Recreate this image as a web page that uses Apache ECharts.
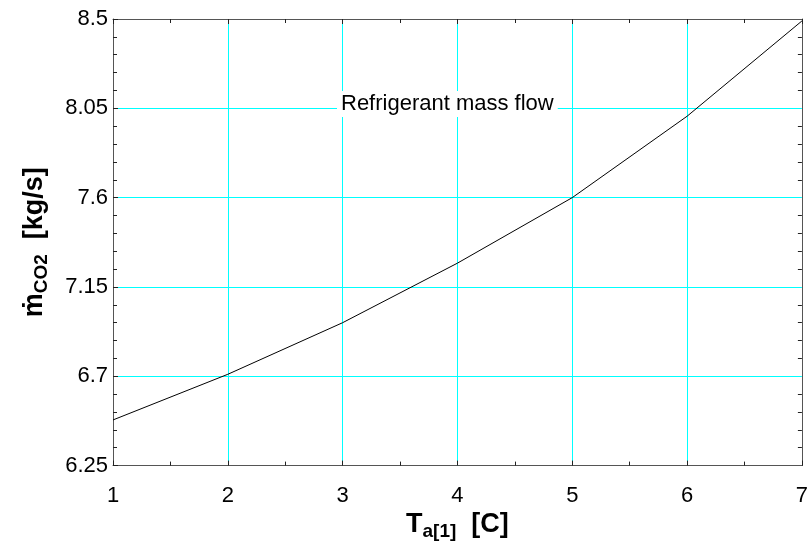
<!DOCTYPE html>
<html>
<head>
<meta charset="utf-8">
<script src="https://cdn.jsdelivr.net/npm/echarts@6/dist/echarts.min.js"></script>
<style>
html,body{margin:0;padding:0;background:#fff;}
#chart{width:811px;height:546px;}
</style>
</head>
<body>
<div id="chart"></div>
<script>
// Data
const xValues = [1, 2, 3, 4, 5, 6, 7];
const massFlow = [6.48, 6.71, 6.97, 7.27, 7.60, 8.01, 8.49];
const yMajorTicks = [6.25, 6.7, 7.15, 7.6, 8.05, 8.5];
const yMinorTicks = [6.34, 6.43, 6.52, 6.61, 6.79, 6.88, 6.97, 7.06, 7.24, 7.33, 7.42, 7.51,
  7.69, 7.78, 7.87, 7.96, 8.14, 8.23, 8.32, 8.41];
const annotation = 'Refrigerant mass flow';

const FONT = '"Liberation Sans", Arial, sans-serif';
const chart = echarts.init(document.getElementById('chart'), null, {renderer: 'canvas'});

const axisLs = () => ({color: '#555', width: 1});
const tickLs = () => ({color: '#222', width: 1});
const GRIDCOLOR = '#00FFFF';

chart.setOption({
  animation: false,
  backgroundColor: '#fff',
  grid: {left: 113, right: 9, top: 19, bottom: 70, containLabel: false},
  xAxis: [
    {
      type: 'value', position: 'bottom', min: 1, max: 7, interval: 1,
      axisLine: {show: true, onZero: false, lineStyle: axisLs()},
      axisTick: {show: true, inside: true, length: 5, lineStyle: tickLs()},
      minorTick: {show: true, splitNumber: 2, length: 4, lineStyle: tickLs()},
      splitLine: {show: true, lineStyle: {color: GRIDCOLOR, width: 1}},
      axisLabel: {color: '#000', fontSize: 22, fontFamily: FONT, margin: 19},
      name: '{b|T}{s|a[1]}{b|  [C]}',
      nameLocation: 'middle', nameGap: 40,
      nameTextStyle: {
        rich: {
          b: {fontSize: 27, fontWeight: 'bold', fontFamily: FONT, color: '#000', lineHeight: 32},
          s: {fontSize: 19, fontWeight: 'bold', fontFamily: FONT, color: '#000', lineHeight: 19, verticalAlign: 'bottom'}
        }
      }
    },
    {
      type: 'value', position: 'top', min: 1, max: 7, interval: 1,
      axisLine: {show: true, onZero: false, lineStyle: axisLs()},
      axisTick: {show: true, inside: true, length: 5, lineStyle: tickLs()},
      minorTick: {show: true, splitNumber: 2, length: 4, lineStyle: tickLs()},
      splitLine: {show: false},
      axisLabel: {show: false}
    }
  ],
  yAxis: [
    {
      type: 'value', position: 'left', min: 6.25, max: 8.5,
      axisLine: {show: true, onZero: false, lineStyle: axisLs()},
      axisTick: {show: true, inside: true, length: 5, customValues: yMajorTicks, lineStyle: tickLs()},
      splitLine: {show: true, lineStyle: {color: GRIDCOLOR, width: 1}},
      axisLabel: {color: '#000', fontSize: 22, fontFamily: FONT, margin: 5, customValues: yMajorTicks},
      name: '{m|ṁ}{s|CO2}{b|  [kg/s]}',
      nameLocation: 'middle', nameRotate: 90, nameGap: 62,
      nameTextStyle: {
        rich: {
          m: {fontSize: 27, fontWeight: 'bold', fontFamily: FONT, color: '#000', lineHeight: 32},
          b: {fontSize: 27, fontWeight: 'bold', fontFamily: FONT, color: '#000', lineHeight: 32},
          s: {fontSize: 19, fontWeight: 'bold', fontFamily: FONT, color: '#000', lineHeight: 19, verticalAlign: 'bottom'}
        }
      }
    },
    {
      type: 'value', position: 'left', offset: 0, min: 6.25, max: 8.5,
      axisLine: {show: false, onZero: false},
      axisTick: {show: true, inside: true, length: 4, customValues: yMinorTicks, lineStyle: tickLs()},
      splitLine: {show: false},
      axisLabel: {show: false, customValues: yMinorTicks}
    },
    {
      type: 'value', position: 'right', min: 6.25, max: 8.5,
      axisLine: {show: true, onZero: false, lineStyle: axisLs()},
      axisTick: {show: true, inside: true, length: 4, customValues: yMinorTicks, lineStyle: tickLs()},
      splitLine: {show: false},
      axisLabel: {show: false, customValues: yMinorTicks}
    }
  ],
  series: [{
    type: 'line',
    xAxisIndex: 0, yAxisIndex: 0,
    data: xValues.map((x, i) => [x, massFlow[i]]),
    showSymbol: false, symbol: 'none',
    lineStyle: {color: '#000', width: 1},
    z: 5
  }],
  graphic: [{
    type: 'text',
    left: 337, top: 91,
    z: 100,
    style: {
      text: annotation, fontSize: 22, fontFamily: FONT, fill: '#000',
      backgroundColor: '#fff', padding: [2, 4, 2, 4]
    }
  }]
});
</script>
</body>
</html>
